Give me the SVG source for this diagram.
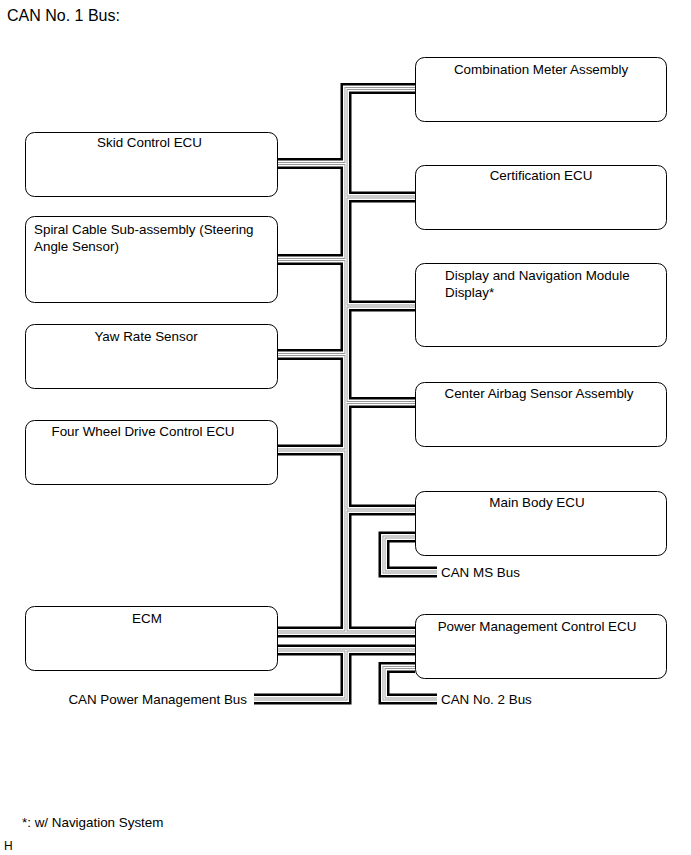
<svg xmlns="http://www.w3.org/2000/svg" width="691" height="855" viewBox="0 0 691 855">
<style>
text{font-family:"Liberation Sans",Arial,sans-serif;font-size:13.4px;fill:#000}
.t{font-size:16px}
.c{text-anchor:middle}
.box{fill:#fff;stroke:#000;stroke-width:1}
.w1{fill:none;stroke:#000;stroke-width:11}
.w2{fill:none;stroke:#fff;stroke-width:6}
.w3{fill:none;stroke:#9a9a9a;stroke-width:3}
.w4{fill:none;stroke:#fff;stroke-width:1.2}
</style>
<defs>
<path id="net" d="M415 88.5H346V632 M277 163.5H346 M346 197H415 M277 259.5H346 M346 306H415 M277 354.5H346 M346 402.5H415 M277 450H346 M346 510H415 M277 632H415 M277 650H415 M346 650V699H254 M415 537H384V572H437 M415 667.5H384V699H437"/>
</defs>
<text class="t" x="7" y="20.5">CAN No. 1 Bus:</text>
<g id="connectors">
<use href="#net" class="w1"/>
<use href="#net" class="w2"/>
<use href="#net" class="w3"/>
<use href="#net" class="w4"/>
</g>
<g id="skid"><rect class="box" x="25.5" y="132.5" width="252" height="64" rx="9"/><text class="c" x="149.5" y="146.7">Skid Control ECU</text></g>
<g id="spiral"><rect class="box" x="25.5" y="216.5" width="252" height="86" rx="9"/><text x="34" y="233.5">Spiral Cable Sub-assembly (Steering</text><text x="34" y="250.5">Angle Sensor)</text></g>
<g id="yaw"><rect class="box" x="25.5" y="324.5" width="252" height="64" rx="9"/><text class="c" x="146" y="340.7">Yaw Rate Sensor</text></g>
<g id="fwd"><rect class="box" x="25.5" y="420.5" width="252" height="64" rx="9"/><text class="c" x="143" y="435.7">Four Wheel Drive Control ECU</text></g>
<g id="ecm"><rect class="box" x="25.5" y="606.5" width="252" height="64" rx="9"/><text class="c" x="147" y="622.7">ECM</text></g>
<g id="combo"><rect class="box" x="415.5" y="57.5" width="251" height="64" rx="9"/><text class="c" x="541" y="73.7">Combination Meter Assembly</text></g>
<g id="cert"><rect class="box" x="415.5" y="165.5" width="251" height="64" rx="9"/><text class="c" x="541" y="179.7">Certification ECU</text></g>
<g id="display"><rect class="box" x="415.5" y="263.5" width="251" height="83" rx="9"/><text x="445" y="280">Display and Navigation Module</text><text x="445" y="297">Display*</text></g>
<g id="airbag"><rect class="box" x="415.5" y="382.5" width="251" height="64" rx="9"/><text class="c" x="539" y="397.7">Center Airbag Sensor Assembly</text></g>
<g id="mainbody"><rect class="box" x="415.5" y="491.5" width="251" height="64" rx="9"/><text class="c" x="537" y="506.7">Main Body ECU</text></g>
<g id="power"><rect class="box" x="415.5" y="614.5" width="251" height="64" rx="9"/><text class="c" x="537" y="630.7">Power Management Control ECU</text></g>
<text x="441" y="577">CAN MS Bus</text>
<text x="441" y="704">CAN No. 2 Bus</text>
<text x="247" y="704" style="text-anchor:end">CAN Power Management Bus</text>
<text x="22" y="827">*: w/ Navigation System</text>
<text x="4" y="850" style="font-size:12px">H</text>
</svg>
